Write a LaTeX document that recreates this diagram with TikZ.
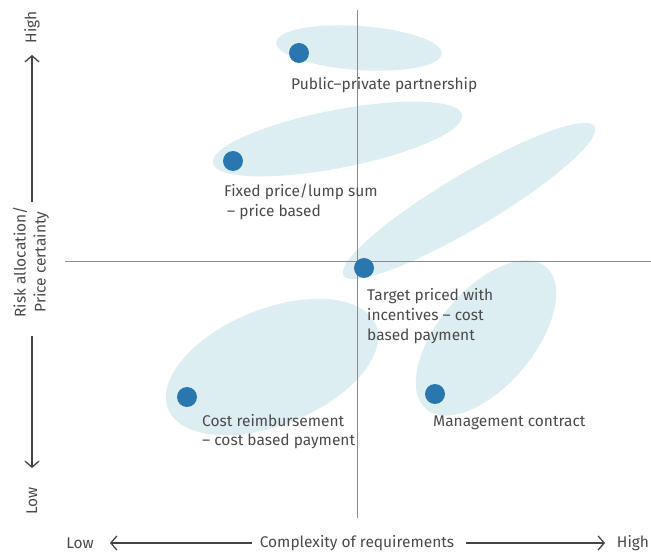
\documentclass[tikz,border=0pt]{standalone}
\usepackage{fontspec}
\setmainfont{Fira Sans}
\usetikzlibrary{arrows.meta}
\definecolor{blob}{HTML}{DCEEF2}
\definecolor{dotc}{HTML}{2A77B0}
\definecolor{txt}{HTML}{4A4A4A}
\definecolor{axisc}{HTML}{8A8A8A}
\definecolor{arrc}{HTML}{444444}
\tikzset{
  x=1pt, y=-1pt,
  blobfill/.style={fill=blob},
  dotnode/.style={circle, fill=dotc, minimum size=20pt, inner sep=0pt},
  lbl/.style={anchor=base west, inner sep=0pt, text=txt, font=\fontsize{15.5}{20}\selectfont, align=left},
  axlbl/.style={inner sep=0pt, text=txt, font=\fontsize{15.5}{20}\selectfont},
  axisline/.style={draw=axisc, line width=0.9pt},
  arr/.style={draw=arrc, line width=1.3pt, -{Straight Barb[length=6pt,width=14pt,line width=1.3pt]}}
}
\begin{document}
\begin{tikzpicture}
\useasboundingbox (0,0) rectangle (651,553);
% ellipses
\fill[blobfill, rotate around={-4:(359,48)}] (359,48) ellipse [x radius=83pt, y radius=22pt];
\fill[blobfill, rotate around={11:(337.5,139)}] (337.5,139) ellipse [x radius=127pt, y radius=29pt];
\fill[blobfill, rotate around={30.7:(469,201)}] (469,201) ellipse [x radius=146pt, y radius=27pt];
\fill[blobfill, rotate around={22:(272,367)}] (272,367) ellipse [x radius=112pt, y radius=58pt];
\fill[blobfill, rotate around={50:(486,338)}] (486,338) ellipse [x radius=93pt, y radius=48pt];
% axes
\coordinate (vtop) at (357,10);
\coordinate (vbot) at (357,518);
\coordinate (hleft) at (65,261);
\coordinate (hright) at (651,261);
\draw[axisline] (vtop) -- (vbot);
\draw[axisline] (hleft) -- (hright);
% dots
\node[dotnode] (ppp) at (299,53) {};
\node[dotnode] (fix) at (233,161) {};
\node[dotnode] (tgt) at (364,268) {};
\node[dotnode] (cost) at (187,397) {};
\node[dotnode] (mgmt) at (435,394) {};
% labels (base = last line baseline)
\node[lbl] (lppp) at (291,90) {Public–private partnership};
\node[lbl] (lfix) at (224,217) {Fixed price/lump sum\\\hspace*{3pt}– price based};
\node[lbl] (ltgt) at (367,341) {Target priced with\\incentives – cost\\based payment};
\node[lbl] (lcost) at (202,446) {Cost reimbursement\\– cost based payment};
\node[lbl] (lmgmt) at (433,426) {Management contract};
% vertical axis
\node[axlbl, rotate=90] (vhigh) at (32,27) {High};
\node[axlbl, rotate=90] (vlow) at (32,501) {Low};
\node[axlbl, rotate=90, align=center] (vtitle) at (31,262) {Risk allocation/\\Price certainty};
\coordinate (vua) at (32,202);
\coordinate (vub) at (32,55);
\coordinate (vda) at (32,336);
\coordinate (vdb) at (32,468);
\draw[arr] (vua) -- (vub);
\draw[arr] (vda) -- (vdb);
% horizontal axis
\node[axlbl] (hlow) at (80,543) {Low};
\node[axlbl] (hhigh) at (633,543) {High};
\node[axlbl] (htitle) at (357,543) {Complexity of requirements};
\coordinate (hla) at (252,543);
\coordinate (hlb) at (110,543);
\coordinate (hra) at (466,543);
\coordinate (hrb) at (605,543);
\draw[arr] (hla) -- (hlb);
\draw[arr] (hra) -- (hrb);
\end{tikzpicture}
\end{document}
